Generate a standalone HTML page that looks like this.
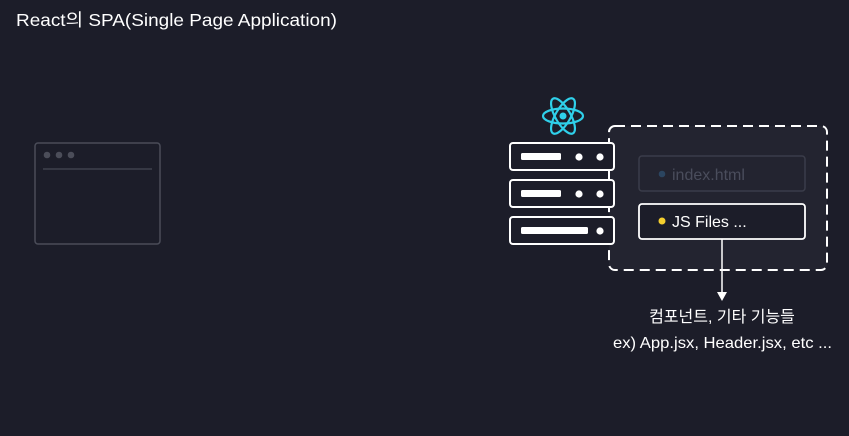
<!DOCTYPE html>
<html><head><meta charset="utf-8"><style>
html,body{margin:0;padding:0;background:#1c1d29;width:849px;height:436px;overflow:hidden}
text{font-family:"Liberation Sans","Noto Sans CJK KR",sans-serif}
</style></head><body>
<svg width="849" height="436" viewBox="0 0 849 436" xmlns="http://www.w3.org/2000/svg">
<rect width="849" height="436" fill="#1c1d29"/>
<text x="16" y="26" font-size="17.5" fill="#ffffff" textLength="321" lengthAdjust="spacingAndGlyphs">React의 SPA(Single Page Application)</text>
<!-- browser -->
<rect x="35" y="143" width="125" height="101" rx="3" fill="none" stroke="#4b4d59" stroke-width="1.5"/>
<circle cx="47" cy="155" r="3.3" fill="#4b4d59"/><circle cx="59" cy="155" r="3.3" fill="#4b4d59"/><circle cx="71" cy="155" r="3.3" fill="#4b4d59"/>
<line x1="43" y1="169" x2="152" y2="169" stroke="#3f414d" stroke-width="1.5"/>
<!-- dashed box -->
<rect x="609" y="126" width="218" height="144" rx="6" fill="#232430" stroke="#ffffff" stroke-width="2" stroke-dasharray="10,6"/>
<!-- servers -->
<g stroke="#ffffff" stroke-width="2" fill="#1c1d29">
<rect x="510" y="143" width="104" height="27" rx="3"/>
<rect x="510" y="180" width="104" height="27" rx="3"/>
<rect x="510" y="217" width="104" height="27" rx="3"/>
</g>
<g fill="#ffffff">
<rect x="521" y="153" width="40" height="7" rx="1.5"/><circle cx="579" cy="157" r="3.6"/><circle cx="600" cy="157" r="3.6"/>
<rect x="521" y="190" width="40" height="7" rx="1.5"/><circle cx="579" cy="194" r="3.6"/><circle cx="600" cy="194" r="3.6"/>
<rect x="521" y="227" width="67" height="7" rx="1.5"/><circle cx="600" cy="231" r="3.6"/>
</g>
<!-- react logo -->
<g transform="translate(563,116)" fill="none" stroke="#2fd0ea" stroke-width="2.2">
<ellipse rx="20" ry="7.5"/>
<ellipse rx="20" ry="7.5" transform="rotate(60)"/>
<ellipse rx="20" ry="7.5" transform="rotate(120)"/>
<circle r="3.5" fill="#2fd0ea" stroke="none"/>
</g>
<!-- index.html -->
<rect x="639" y="156" width="166" height="35" rx="3" fill="#232430" stroke="#3b3d4a" stroke-width="1.5"/>
<circle cx="662" cy="174" r="3.3" fill="#2b4560"/>
<text x="672" y="180" font-size="16" fill="#4a4d5c">index.html</text>
<!-- JS files -->
<rect x="639" y="204" width="166" height="35" rx="3" fill="#1c1d29" stroke="#ffffff" stroke-width="1.8"/>
<circle cx="662" cy="221" r="3.5" fill="#f5cf2e"/>
<text x="672" y="227" font-size="16" fill="#ffffff">JS Files ...</text>
<!-- arrow -->
<line x1="722" y1="239" x2="722" y2="294" stroke="#ffffff" stroke-width="1.5"/>
<polygon points="717,292 727,292 722,301" fill="#ffffff"/>
<text x="722" y="322" font-size="16" fill="#ffffff" text-anchor="middle">컴포넌트, 기타 기능들</text>
<text x="613" y="348" font-size="16" fill="#ffffff" textLength="219" lengthAdjust="spacingAndGlyphs">ex) App.jsx, Header.jsx, etc ...</text>
</svg>
</body></html>
